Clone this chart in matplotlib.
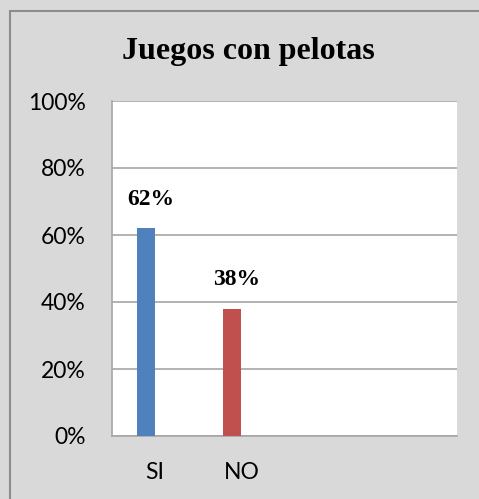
import matplotlib.pyplot as plt
from matplotlib.patches import Rectangle

# --- DATA ---
categories = ["SI", "NO"]
values = [62, 38]
value_labels = ["62%", "38%"]
bar_colors = ["#4F81BD", "#C0504D"]
y_ticks = [0, 20, 40, 60, 80, 100]
y_tick_labels = ["0%", "20%", "40%", "60%", "80%", "100%"]

BG = "#D9D9D9"
GRID = "#A6A6A6"

fig = plt.figure(figsize=(4.79, 4.99), dpi=100, facecolor=BG)

# outer chart border
fig.patches.append(Rectangle((10 / 479, -0.05), 1.2, 1 - 11 / 499 + 0.05,
                             transform=fig.transFigure, fill=False,
                             edgecolor="#8C8C8C", linewidth=1.5))

ax = fig.add_axes([112 / 479, 1 - 436 / 499, 345 / 479, 335 / 499])
ax.set_facecolor("white")

pos = list(range(len(categories)))
bar_off = -0.105
ax.bar([p + bar_off for p in pos], values, width=0.21, color=bar_colors, zorder=3)

for p, v, lab in zip(pos, values, value_labels):
    ax.text(p + bar_off + 0.05, v + 8.6, lab, ha="center", va="center",
            fontsize=17, fontweight="bold", family="Liberation Serif", zorder=4)

ax.set_xlim(-0.5, 3.5)
ax.set_ylim(0, 100)
ax.set_yticks(y_ticks)
ax.set_yticklabels(y_tick_labels)
ax.set_xticks(pos)
ax.set_xticklabels(categories)
ax.tick_params(axis="both", length=0, labelsize=16.5)
ax.tick_params(axis="y", pad=19)
ax.tick_params(axis="x", pad=19)
for lab in ax.get_xticklabels() + ax.get_yticklabels():
    lab.set_family("Lato")

ax.yaxis.grid(True, color=GRID, linewidth=1.2, zorder=0)
ax.set_axisbelow(True)
for side in ["top", "right"]:
    ax.spines[side].set_visible(False)
ax.spines["left"].set_color(GRID)
ax.spines["bottom"].set_color(GRID)
ax.spines["left"].set_linewidth(1.2)
ax.spines["bottom"].set_linewidth(1.2)

fig.text(248 / 479, 1 - 52 / 499, "Juegos con pelotas", ha="center", va="center",
         fontsize=23, fontweight="bold", family="Liberation Serif")

fig.savefig("out.png", dpi=100, facecolor=BG)
